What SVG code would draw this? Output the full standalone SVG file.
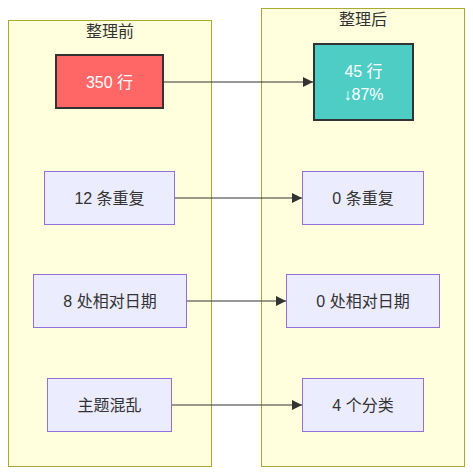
<svg xmlns="http://www.w3.org/2000/svg" width="473" height="476" viewBox="0 0 473 476">
<style>
text{font-family:"Liberation Sans","Noto Sans CJK SC",sans-serif;font-size:16px;fill:#333;text-anchor:middle;dominant-baseline:central}
.cluster{fill:#ffffde;stroke:#aaaa33;stroke-width:1}
.node{fill:#ececff;stroke:#9370db;stroke-width:1}
.edge{stroke:#333;stroke-width:1;fill:none}
.w{fill:#fff}
</style>
<defs>
<marker id="arr" viewBox="0 0 10 10" refX="10" refY="5" markerWidth="10" markerHeight="10" markerUnits="userSpaceOnUse" orient="auto">
<path d="M0,0 L10,5 L0,10 z" fill="#333"/>
</marker>
</defs>
<g id="before">
<rect class="cluster" x="8.5" y="20.5" width="203" height="446"/>
<text x="110" y="31">整理前</text>
</g>
<g id="after">
<rect class="cluster" x="261.5" y="8.5" width="203" height="458"/>
<text x="363" y="19">整理后</text>
</g>
<g id="edges">
<path class="edge" d="M163,82 L313,82" marker-end="url(#arr)"/>
<path class="edge" d="M175,198 L302,198" marker-end="url(#arr)"/>
<path class="edge" d="M186,301 L286,301" marker-end="url(#arr)"/>
<path class="edge" d="M171,405 L302,405" marker-end="url(#arr)"/>
</g>
<g id="b1">
<rect x="56" y="55" width="107" height="53" fill="#ff6666" stroke="#333" stroke-width="2"/>
<text class="w" x="109.5" y="82">350 行</text>
</g>
<g id="a1">
<rect x="314" y="44" width="99" height="76" fill="#4ecdc4" stroke="#333" stroke-width="2"/>
<text class="w" x="363.5" y="71">45 行</text>
<text class="w" x="363.5" y="94">↓87%</text>
</g>
<g id="b2">
<rect class="node" x="44.5" y="171.5" width="130" height="53"/>
<text x="109.5" y="198">12 条重复</text>
</g>
<g id="a2">
<rect class="node" x="302.5" y="171.5" width="121" height="53"/>
<text x="363" y="198">0 条重复</text>
</g>
<g id="b3">
<rect class="node" x="33.5" y="274.5" width="153" height="53"/>
<text x="110" y="301">8 处相对日期</text>
</g>
<g id="a3">
<rect class="node" x="286.5" y="274.5" width="153" height="53"/>
<text x="363" y="301">0 处相对日期</text>
</g>
<g id="b4">
<rect class="node" x="47.5" y="378.5" width="124" height="53"/>
<text x="109.5" y="405">主题混乱</text>
</g>
<g id="a4">
<rect class="node" x="302.5" y="378.5" width="121" height="53"/>
<text x="363" y="405">4 个分类</text>
</g>
</svg>
